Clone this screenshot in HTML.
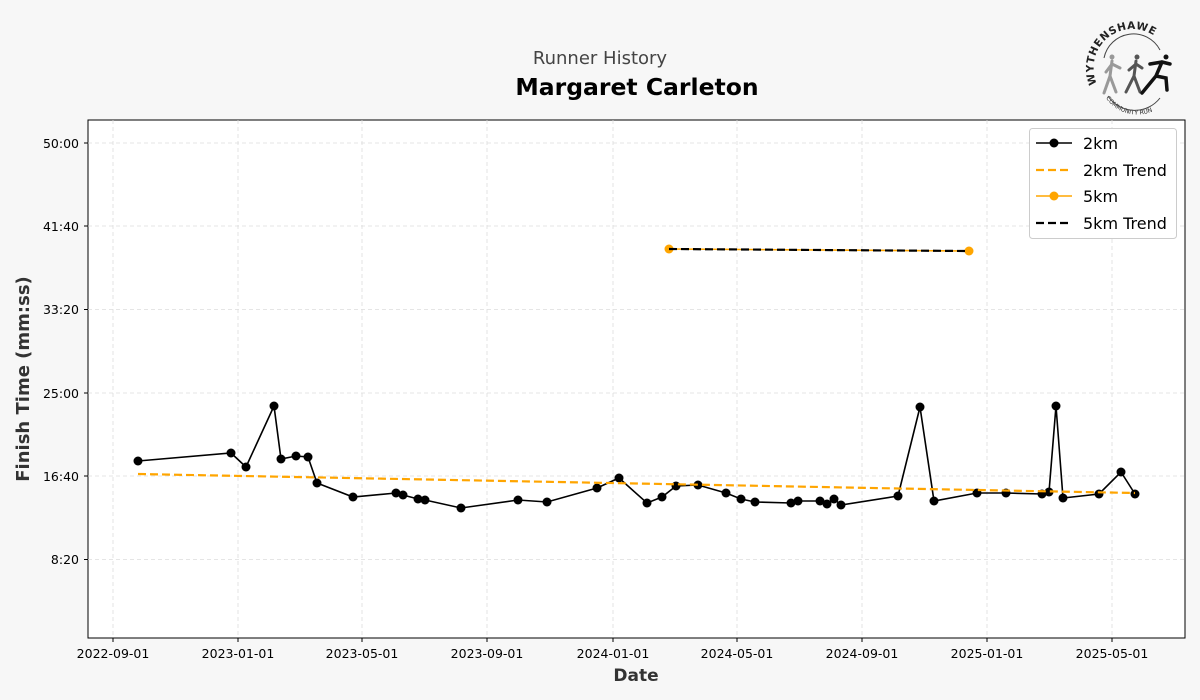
<!DOCTYPE html>
<html><head><meta charset="utf-8"><style>
html,body{margin:0;padding:0;background:#f7f7f7;}
svg{display:block;font-family:"DejaVu Sans","Liberation Sans",sans-serif;}
</style></head><body>
<svg width="1200" height="700" viewBox="0 0 1200 700" xmlns="http://www.w3.org/2000/svg">
<rect width="1200" height="700" fill="#f7f7f7"/>
<text x="600" y="64" text-anchor="middle" font-size="18" fill="#444">Runner History</text>
<text x="637" y="95" text-anchor="middle" font-size="23.5" font-weight="bold" fill="#000">Margaret Carleton</text>
<!-- logo -->
<g>
<defs><path id="arcTop" d="M1097,84 A36,36 0 1 1 1168,52"/><path id="arcBot" d="M1106,98 A38,38 0 0 0 1170,96"/></defs>
<text font-size="10.5" font-weight="bold" fill="#222" letter-spacing="0.6"><textPath href="#arcTop">WYTHENSHAWE</textPath></text>
<text font-size="6" fill="#222"><textPath href="#arcBot">COMMUNITY RUN</textPath></text>
<path d="M1104,58 A30,30 0 0 1 1160,50" fill="none" stroke="#444" stroke-width="1"/>
<path d="M1108,96 A32,32 0 0 0 1160,98" fill="none" stroke="#444" stroke-width="1"/>
<g stroke-linecap="round" fill="none">
<circle cx="1112" cy="57" r="2.5" fill="#999"/><path d="M1112,61 L1110,76 L1104,93 M1110,76 L1116,92 M1112,64 L1106,72 M1112,64 L1120,68" stroke="#999" stroke-width="3"/>
<circle cx="1137" cy="57" r="2.5" fill="#555"/><path d="M1136,61 L1134,76 L1126,92 M1134,76 L1140,92 M1136,64 L1129,70 M1136,64 L1142,68" stroke="#555" stroke-width="3"/>
<circle cx="1166" cy="57" r="2.5" fill="#111"/><path d="M1162,62 L1156,76 L1142,93 M1156,76 L1166,78 L1167,90 M1162,62 L1150,64 M1162,62 L1170,64" stroke="#111" stroke-width="3.5"/>
</g></g>
<!-- axes -->
<rect x="88" y="120" width="1097" height="518" fill="#fff" stroke="#000" stroke-width="1"/>
<g stroke="#ddd" stroke-width="0.8" stroke-dasharray="4,3">
<line x1="113" y1="120" x2="113" y2="638"/><line x1="238" y1="120" x2="238" y2="638"/><line x1="362" y1="120" x2="362" y2="638"/><line x1="487" y1="120" x2="487" y2="638"/><line x1="613" y1="120" x2="613" y2="638"/><line x1="737" y1="120" x2="737" y2="638"/><line x1="862" y1="120" x2="862" y2="638"/><line x1="987" y1="120" x2="987" y2="638"/><line x1="1112" y1="120" x2="1112" y2="638"/>
<line x1="88" y1="143" x2="1185" y2="143"/><line x1="88" y1="226" x2="1185" y2="226"/><line x1="88" y1="309.5" x2="1185" y2="309.5"/><line x1="88" y1="393" x2="1185" y2="393"/><line x1="88" y1="476" x2="1185" y2="476"/><line x1="88" y1="559.5" x2="1185" y2="559.5"/>
</g>
<g stroke="#000" stroke-width="1">
<line x1="113" y1="638" x2="113" y2="642"/><line x1="238" y1="638" x2="238" y2="642"/><line x1="362" y1="638" x2="362" y2="642"/><line x1="487" y1="638" x2="487" y2="642"/><line x1="613" y1="638" x2="613" y2="642"/><line x1="737" y1="638" x2="737" y2="642"/><line x1="862" y1="638" x2="862" y2="642"/><line x1="987" y1="638" x2="987" y2="642"/><line x1="1112" y1="638" x2="1112" y2="642"/>
<line x1="84" y1="143" x2="88" y2="143"/><line x1="84" y1="226" x2="88" y2="226"/><line x1="84" y1="309.5" x2="88" y2="309.5"/><line x1="84" y1="393" x2="88" y2="393"/><line x1="84" y1="476" x2="88" y2="476"/><line x1="84" y1="559.5" x2="88" y2="559.5"/>
</g>
<g font-size="12.5" fill="#000" text-anchor="middle">
<text x="113" y="658">2022-09-01</text><text x="238" y="658">2023-01-01</text><text x="362" y="658">2023-05-01</text><text x="487" y="658">2023-09-01</text><text x="613" y="658">2024-01-01</text><text x="737" y="658">2024-05-01</text><text x="862" y="658">2024-09-01</text><text x="987" y="658">2025-01-01</text><text x="1112" y="658">2025-05-01</text>
</g>
<g font-size="12.5" fill="#000" text-anchor="end">
<text x="79" y="148">50:00</text><text x="79" y="231">41:40</text><text x="79" y="314">33:20</text><text x="79" y="398">25:00</text><text x="79" y="481">16:40</text><text x="79" y="564">8:20</text>
</g>
<text x="636" y="681" text-anchor="middle" font-size="17" font-weight="bold" fill="#333">Date</text>
<text transform="translate(29,379) rotate(-90)" text-anchor="middle" font-size="18" font-weight="bold" fill="#333">Finish Time (mm:ss)</text>
<!-- series -->
<polyline fill="none" stroke="#000" stroke-width="1.6" points="138,461 231,453 246,467 274,406 281,459 296,456 308,457 317,483 353,497 396,493 403,495 418,499 425,500 461,508 518,500 547,502 597,488 619,478 647,503 662,497 676,486 698,485 726,493 741,499 755,502 791,503 798,501 820,501 827,504 834,499 841,505 898,496 920,407 934,501 977,493 1006,493 1042,494 1049,492 1056,406 1063,498 1099,494 1121,472 1135,494"/>
<g fill="#000">
<circle cx="138" cy="461" r="4.5"/><circle cx="231" cy="453" r="4.5"/><circle cx="246" cy="467" r="4.5"/><circle cx="274" cy="406" r="4.5"/><circle cx="281" cy="459" r="4.5"/><circle cx="296" cy="456" r="4.5"/><circle cx="308" cy="457" r="4.5"/><circle cx="317" cy="483" r="4.5"/><circle cx="353" cy="497" r="4.5"/><circle cx="396" cy="493" r="4.5"/><circle cx="403" cy="495" r="4.5"/><circle cx="418" cy="499" r="4.5"/><circle cx="425" cy="500" r="4.5"/><circle cx="461" cy="508" r="4.5"/><circle cx="518" cy="500" r="4.5"/><circle cx="547" cy="502" r="4.5"/><circle cx="597" cy="488" r="4.5"/><circle cx="619" cy="478" r="4.5"/><circle cx="647" cy="503" r="4.5"/><circle cx="662" cy="497" r="4.5"/><circle cx="676" cy="486" r="4.5"/><circle cx="698" cy="485" r="4.5"/><circle cx="726" cy="493" r="4.5"/><circle cx="741" cy="499" r="4.5"/><circle cx="755" cy="502" r="4.5"/><circle cx="791" cy="503" r="4.5"/><circle cx="798" cy="501" r="4.5"/><circle cx="820" cy="501" r="4.5"/><circle cx="827" cy="504" r="4.5"/><circle cx="834" cy="499" r="4.5"/><circle cx="841" cy="505" r="4.5"/><circle cx="898" cy="496" r="4.5"/><circle cx="920" cy="407" r="4.5"/><circle cx="934" cy="501" r="4.5"/><circle cx="977" cy="493" r="4.5"/><circle cx="1006" cy="493" r="4.5"/><circle cx="1042" cy="494" r="4.5"/><circle cx="1049" cy="492" r="4.5"/><circle cx="1056" cy="406" r="4.5"/><circle cx="1063" cy="498" r="4.5"/><circle cx="1099" cy="494" r="4.5"/><circle cx="1121" cy="472" r="4.5"/><circle cx="1135" cy="494" r="4.5"/>
</g>
<line x1="138" y1="474" x2="1135" y2="493" stroke="#FFA500" stroke-width="2.2" stroke-dasharray="8,4"/>
<line x1="669" y1="249" x2="969" y2="251" stroke="#FFA500" stroke-width="1.6"/>
<circle cx="669" cy="249" r="4.5" fill="#FFA500"/><circle cx="969" cy="251" r="4.5" fill="#FFA500"/>
<line x1="669" y1="249" x2="969" y2="251" stroke="#000" stroke-width="2.2" stroke-dasharray="8,4"/>
<!-- legend -->
<rect x="1029.5" y="128.5" width="147" height="110" rx="3" fill="#fff" stroke="#ccc"/>
<line x1="1036" y1="143" x2="1072" y2="143" stroke="#000" stroke-width="1.6"/><circle cx="1054" cy="143" r="4.5" fill="#000"/>
<line x1="1036" y1="170" x2="1072" y2="170" stroke="#FFA500" stroke-width="2.2" stroke-dasharray="8,4"/>
<line x1="1036" y1="196" x2="1072" y2="196" stroke="#FFA500" stroke-width="1.6"/><circle cx="1054" cy="196" r="4.5" fill="#FFA500"/>
<line x1="1036" y1="223" x2="1072" y2="223" stroke="#000" stroke-width="2.2" stroke-dasharray="8,4"/>
<g font-size="16" fill="#000">
<text x="1083" y="149">2km</text><text x="1083" y="176">2km Trend</text><text x="1083" y="202">5km</text><text x="1083" y="229">5km Trend</text>
</g>
</svg>
</body></html>
